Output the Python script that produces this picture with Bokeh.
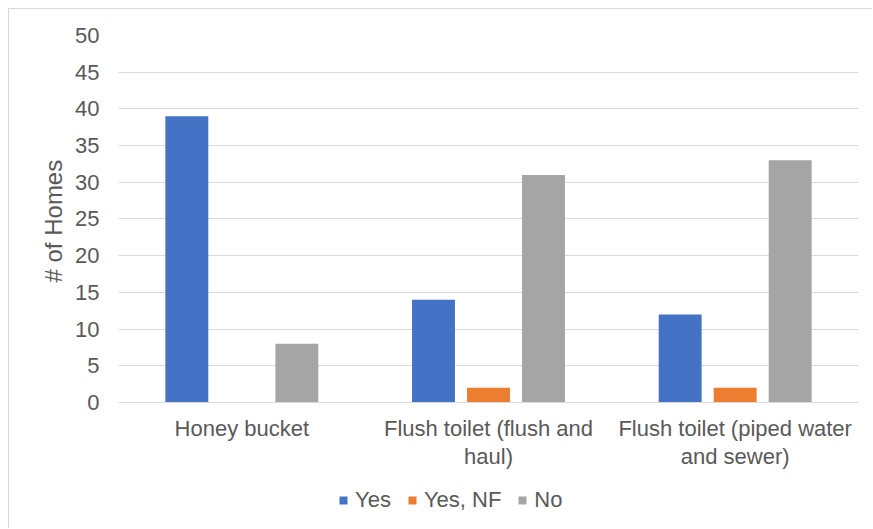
from bokeh.plotting import figure
from bokeh.models import ColumnDataSource, FixedTicker, Legend, LegendItem, Range1d, Title
from bokeh.embed import file_html
from bokeh.resources import INLINE

categories = ["Honey bucket", "Flush toilet (flush and\nhaul)", "Flush toilet (piped water\nand sewer)"]
series = ["Yes", "Yes, NF", "No"]
yes_vals = [39, 14, 12]
yes_nf_vals = [0, 2, 2]
no_vals = [8, 31, 33]
colors = ["#4472C4", "#ED7D31", "#A5A5A5"]
y_ticks = [0, 5, 10, 15, 20, 25, 30, 35, 40, 45, 50]

FONT = "Liberation Sans"
TXT = "#595959"
GRID = "#D9D9D9"

# frame extends below zero so the category labels and legend sit inside it
p = figure(width=864, height=520, output_backend="svg", toolbar_location=None,
           x_range=Range1d(0, len(categories)), y_range=Range1d(-16.08, 50),
           min_border_left=109, min_border_right=15, min_border_top=26, min_border_bottom=9)
p.styles = {"margin-left": "8px", "margin-top": "8px",
            "border-left": "1px solid #D9D9D9", "border-top": "1px solid #D9D9D9"}
p.outline_line_color = None
p.background_fill_color = "white"
p.border_fill_color = "white"

offsets = [-0.223, 0.0, 0.223]
bar_w = 0.174
all_vals = [yes_vals, yes_nf_vals, no_vals]
renderers = []
for i, (name, vals) in enumerate(zip(series, all_vals)):
    xs = [k + 0.5 + offsets[i] for k in range(len(categories))]
    src = ColumnDataSource(dict(x=xs, top=vals))
    r = p.vbar(x="x", top="top", width=bar_w, bottom=0, source=src,
               fill_color=colors[i], line_color=None)
    renderers.append(r)

# x axis fixed at y = 0
p.xaxis.fixed_location = 0
p.xaxis.ticker = FixedTicker(ticks=[k + 0.5 for k in range(len(categories))])
p.xaxis.major_label_overrides = {k + 0.5: c for k, c in enumerate(categories)}
p.xaxis.axis_line_color = GRID
p.xaxis.major_tick_line_color = None
p.xaxis.minor_tick_line_color = None
p.xaxis.major_label_text_font = FONT
p.xaxis.major_label_text_font_size = "22px"
p.xaxis.major_label_text_color = TXT
p.xaxis.major_label_text_line_height = 1.1
p.xaxis.major_label_standoff = 8
p.xgrid.grid_line_color = None

p.yaxis.ticker = FixedTicker(ticks=y_ticks)
p.yaxis.axis_line_color = None
p.yaxis.major_tick_line_color = None
p.yaxis.minor_tick_line_color = None
p.yaxis.major_label_text_font = FONT
p.yaxis.major_label_text_font_size = "22px"
p.yaxis.major_label_text_color = TXT
p.yaxis.major_label_standoff = 13
p.ygrid.grid_line_color = GRID
p.ygrid.grid_line_width = 1

ytitle = Title(text="# of Homes", align="left", offset=238, standoff=12,
               text_font=FONT, text_font_size="24px", text_font_style="normal",
               text_color=TXT)
p.add_layout(ytitle, "left")

legend = Legend(items=[LegendItem(label=s, renderers=[r]) for s, r in zip(series, renderers)],
                orientation="horizontal", location=(220, 7),
                glyph_width=10, glyph_height=10, label_text_font=FONT,
                label_text_font_size="22px", label_text_color=TXT,
                label_standoff=7, spacing=16, padding=0, margin=0,
                border_line_color=None, background_fill_alpha=0)
p.add_layout(legend, "center")

open("out.html", "w").write(file_html(p, INLINE))
